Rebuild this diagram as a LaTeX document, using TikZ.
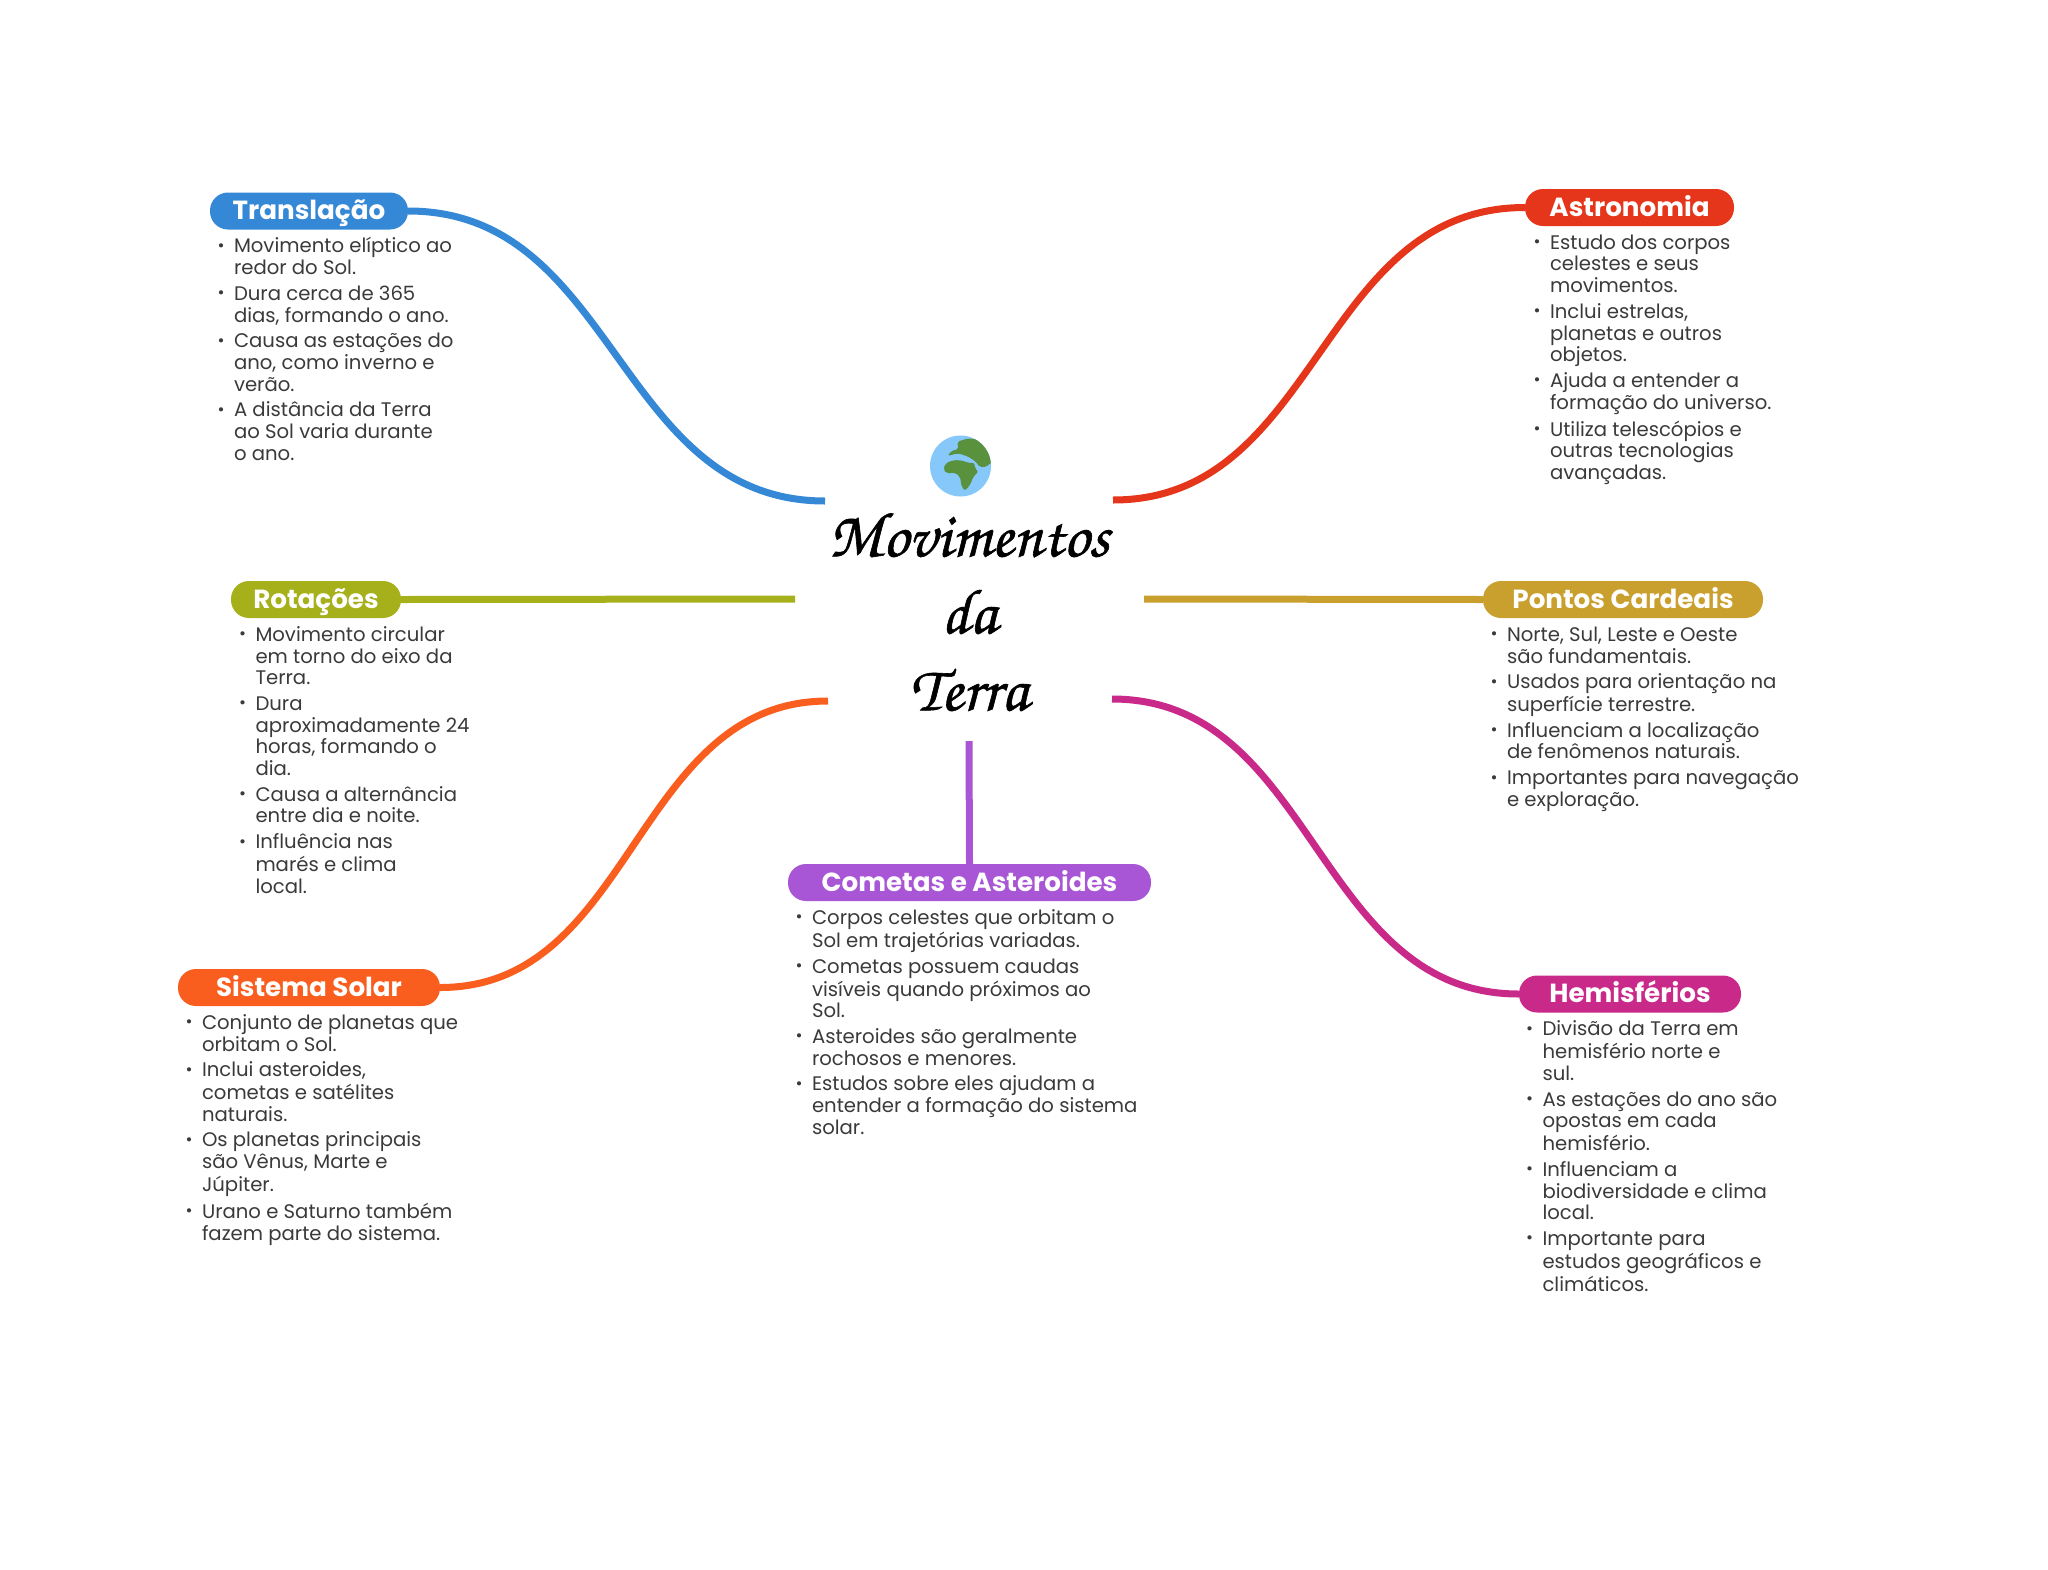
\documentclass[tikz,border=0pt]{standalone}
\usepackage{fontspec}
\setmainfont{Poppins}
\usetikzlibrary{calc,positioning}
\definecolor{translc}{RGB}{53,136,214}
\definecolor{astroc}{RGB}{229,54,27}
\definecolor{rotac}{RGB}{165,176,26}
\definecolor{pontosc}{RGB}{201,160,46}
\definecolor{sistc}{RGB}{249,94,31}
\definecolor{hemisc}{RGB}{201,42,138}
\definecolor{cometc}{RGB}{168,85,214}
\definecolor{notesc}{RGB}{58,58,58}
\definecolor{waterc}{RGB}{135,200,250}
\definecolor{landc}{RGB}{90,145,60}
\newcommand{\itm}{\strut\llap{\makebox[0pt][c]{\fontsize{17}{17}\selectfont\raisebox{1.5pt}{•}}\hspace{13pt}}}
\newcommand{\lin}{\strut}
\newcommand{\gp}{\\[4pt]}
\tikzset{
pill/.style={rectangle,rounded corners=18pt,minimum height=37pt,inner sep=0pt,
text height=20pt,text depth=3pt,text=white,font=\fontsize{26.2}{30}\selectfont\bfseries},
notes/.style={anchor=north west,inner sep=0pt,align=left,text=notesc,
font=\fontsize{19.65}{21.7}\selectfont},
branch/.style={line width=7pt}
}

\begin{document}
\begin{tikzpicture}[x=1pt,y=-1pt]
	\useasboundingbox (0,0) rectangle (2048,1569);

	% earth
	\begin{scope}
		\fill[waterc] (960.5,466) circle (30.5);
		\clip (960.5,466) circle (30.5);
		\begin{scope}[shift={(925,430)},scale=0.3333]
			\fill[landc,rounded corners=2pt] (55,118) -- (62,100) -- (80,92) -- (100,90) -- (122,95) -- (135,100)
			-- (148,98) -- (150,115) -- (160,125) -- (145,140) -- (135,165) -- (120,182) -- (110,170) -- (105,140)
			-- (90,128) -- (65,130) -- cycle;
			\fill[landc,rounded corners=2pt] (68,78) -- (80,62) -- (100,58) -- (97,35) -- (130,25) -- (165,30)
			-- (195,50) -- (212,90) -- (195,100) -- (185,110) -- (165,112) -- (152,95) -- (130,80) -- (115,75)
			-- (100,70) -- (85,73) -- cycle;
		\end{scope}
	\end{scope}

	% title
	\node[align=center,font=\usefont{T1}{pzc}{mb}{it}\fontsize{64}{77}\selectfont] (title) at (969,611)
	{\special{pdf:code 2 Tr 0.6 w}Movimentos\\da\\Terra\special{pdf:code 0 Tr}};

	% free ends of the branches
	\coordinate (translend) at (825,501);
	\coordinate (astroend) at (1113,500);
	\coordinate (rotaend) at (795,599);
	\coordinate (pontosend) at (1144,599);
	\coordinate (sistend) at (828,701);
	\coordinate (hemisend) at (1112,699);
	\coordinate (cometend) at (969,741);

	\node[pill,fill=translc,minimum width=198pt] (transl) at (309,211) {Translação};
	\node[notes] (translnotes) at ($(transl.west)+(24,26.4)$) {\itm Movimento elíptico ao\\
		\lin redor do Sol.\gp
		\itm Dura cerca de 365\\
		\lin dias, formando o ano.\gp
		\itm Causa as estações do\\
		\lin ano, como inverno e\\
		\lin verão.\gp
		\itm A distância da Terra\\
		\lin ao Sol varia durante\\
		\lin o ano.};

	\node[pill,fill=astroc,minimum width=209pt] (astro) at (1629.5,207.5) {Astronomia};
	\node[notes] (astronotes) at ($(astro.west)+(25,26.4)$) {\itm Estudo dos corpos\\
		\lin celestes e seus\\
		\lin movimentos.\gp
		\itm Inclui estrelas,\\
		\lin planetas e outros\\
		\lin objetos.\gp
		\itm Ajuda a entender a\\
		\lin formação do universo.\gp
		\itm Utiliza telescópios e\\
		\lin outras tecnologias\\
		\lin avançadas.};

	\node[pill,fill=rotac,minimum width=170pt] (rota) at (316,599.5) {Rotações};
	\node[notes] (rotanotes) at ($(rota.west)+(24.5,26.4)$) {\itm Movimento circular\\
		\lin em torno do eixo da\\
		\lin Terra.\gp
		\itm Dura\\
		\lin aproximadamente 24\\
		\lin horas, formando o\\
		\lin dia.\gp
		\itm Causa a alternância\\
		\lin entre dia e noite.\gp
		\itm Influência nas\\
		\lin marés e clima\\
		\lin local.};

	\node[pill,fill=pontosc,minimum width=280pt] (pontos) at (1623,599.5) {Pontos Cardeais};
	\node[notes] (pontosnotes) at ($(pontos.west)+(24,26.4)$) {\itm Norte, Sul, Leste e Oeste\\
		\lin são fundamentais.\gp
		\itm Usados para orientação na\\
		\lin superfície terrestre.\gp
		\itm Influenciam a localização\\
		\lin de fenômenos naturais.\gp
		\itm Importantes para navegação\\
		\lin e exploração.};

	\node[pill,fill=sistc,minimum width=262pt] (sist) at (309,987.5) {Sistema Solar};
	\node[notes] (sistnotes) at ($(sist.west)+(24,26.4)$) {\itm Conjunto de planetas que\\
		\lin orbitam o Sol.\gp
		\itm Inclui asteroides,\\
		\lin cometas e satélites\\
		\lin naturais.\gp
		\itm Os planetas principais\\
		\lin são Vênus, Marte e\\
		\lin Júpiter.\gp
		\itm Urano e Saturno também\\
		\lin fazem parte do sistema.};

	\node[pill,fill=hemisc,minimum width=222pt] (hemis) at (1630,994) {Hemisférios};
	\node[notes] (hemisnotes) at ($(hemis.west)+(23.5,26.4)$) {\itm Divisão da Terra em\\
		\lin hemisfério norte e\\
		\lin sul.\gp
		\itm As estações do ano são\\
		\lin opostas em cada\\
		\lin hemisfério.\gp
		\itm Influenciam a\\
		\lin biodiversidade e clima\\
		\lin local.\gp
		\itm Importante para\\
		\lin estudos geográficos e\\
		\lin climáticos.};

	\node[pill,fill=cometc,minimum width=363pt] (comet) at (969.5,882.5) {Cometas e Asteroides};
	\node[notes] (cometnotes) at ($(comet.west)+(24,26.4)$) {\itm Corpos celestes que orbitam o\\
		\lin Sol em trajetórias variadas.\gp
		\itm Cometas possuem caudas\\
		\lin visíveis quando próximos ao\\
		\lin Sol.\gp
		\itm Asteroides são geralmente\\
		\lin rochosos e menores.\gp
		\itm Estudos sobre eles ajudam a\\
		\lin entender a formação do sistema\\
		\lin solar.};

	% branches
	\draw[branch,translc] (transl.east) .. controls +(208,0) and +(-208,0) .. (translend);
	\draw[branch,astroc] (astroend) .. controls +(206,0) and +(-206,0) .. (astro.west);
	\draw[branch,rotac] (rotaend) -- (rota.east);
	\draw[branch,pontosc] (pontosend) -- (pontos.west);
	\draw[branch,sistc] (sistend) .. controls +(-194,0) and +(194,0) .. (sist.east);
	\draw[branch,hemisc] (hemisend) .. controls +(203,0) and +(-203,0) .. (hemis.west);
	\draw[branch,cometc] (cometend) -- (comet.north);
\end{tikzpicture}
\end{document}
